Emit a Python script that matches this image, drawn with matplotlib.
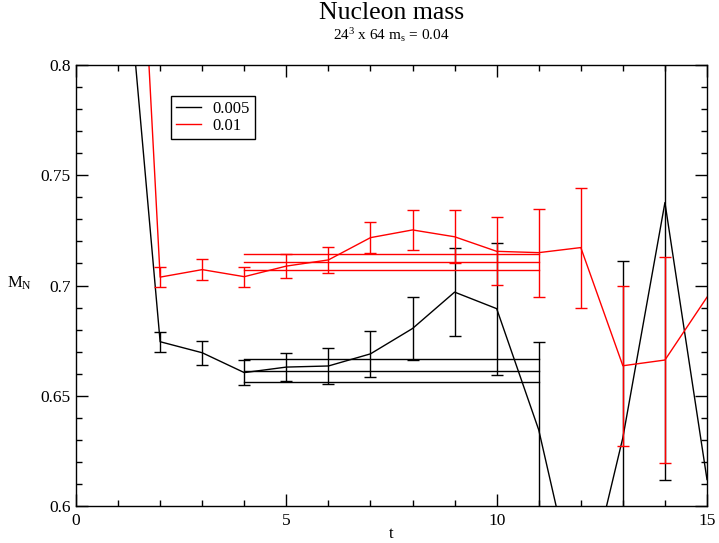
import matplotlib
matplotlib.use("Agg")
import matplotlib.pyplot as plt
from matplotlib.ticker import MultipleLocator
from matplotlib.lines import Line2D

plt.rcParams['font.family'] = ['Liberation Serif', 'DejaVu Serif']
plt.rcParams['mathtext.fontset'] = 'custom'
plt.rcParams['mathtext.rm'] = 'Liberation Serif'
plt.rcParams['mathtext.it'] = 'Liberation Serif:italic'

# Series 0.005 (black)
t_black = [1, 2, 3, 4, 5, 6, 7, 8, 9, 10, 11, 12, 13, 14, 15]
m_black = [0.890, 0.6745, 0.6695, 0.6605, 0.6630, 0.6635, 0.6690, 0.6805, 0.6970, 0.6895, 0.6345, 0.551, 0.631, 0.7376, 0.612]
e_black = [0.010, 0.0045, 0.0055, 0.0055, 0.0065, 0.0080, 0.0105, 0.0145, 0.0200, 0.0300, 0.0400, 0.030, 0.080, 0.1260]

# Series 0.01 (red)
t_red = [1, 2, 3, 4, 5, 6, 7, 8, 9, 10, 11, 12, 13, 14, 15]
m_red = [1.066, 0.7038, 0.7072, 0.7040, 0.7088, 0.7116, 0.7217, 0.7252, 0.7221, 0.7155, 0.7149, 0.7172, 0.6636, 0.6662, 0.6947]
e_red = [0.010, 0.0045, 0.0048, 0.0045, 0.0053, 0.0060, 0.0070, 0.0090, 0.0120, 0.0155, 0.0200, 0.0272, 0.0362, 0.0468]

# Fit bands (t from 4 to 11)
fit_range = [4, 11]
fit_black = [0.6665, 0.6614, 0.6561]
fit_red = [0.7143, 0.7105, 0.7069]

fig = plt.figure(figsize=(7.19, 5.43), dpi=100)
ax = fig.add_axes([76/719, 37/543, 631/719, 441/543])

cap = 4.3
for t, m, e, c in [(t_black, m_black, e_black, 'black'), (t_red, m_red, e_red, 'red')]:
    ax.plot(t, m, color=c, lw=1.0)
    n = len(e)
    ax.errorbar(t[:n], m[:n], yerr=e, fmt='none', ecolor=c,
                elinewidth=1.0, capsize=cap, capthick=1.0)

for y in fit_black:
    ax.plot(fit_range, [y, y], color='black', lw=1.0)
for y in fit_red:
    ax.plot(fit_range, [y, y], color='red', lw=1.0)

ax.set_xlim(0, 15)
ax.set_ylim(0.6, 0.8)
ax.xaxis.set_major_locator(MultipleLocator(5))
ax.xaxis.set_minor_locator(MultipleLocator(1))
ax.yaxis.set_minor_locator(MultipleLocator(0.01))
ax.set_yticks([0.6, 0.65, 0.7, 0.75, 0.8])
ax.set_yticklabels(['0.6', '0.65', '0.7', '0.75', '0.8'])
ax.tick_params(which='both', direction='in', top=True, right=True, labelsize=12.5, width=1.0)
ax.tick_params(which='major', length=8.6)
ax.tick_params(axis='x', which='major', pad=5)
ax.tick_params(axis='y', which='major', pad=4)
ax.tick_params(which='minor', length=4.3)
for s in ax.spines.values():
    s.set_linewidth(1.0)

ax.set_xlabel('t', fontsize=12, va='center')
ax.xaxis.set_label_coords(0.5, (506 - 534) / 441)
ax.set_ylabel(r'M$_{\mathrm{N}}$', fontsize=12, rotation=0, va='center', ha='center')
ax.yaxis.set_label_coords((20 - 76) / 631, (506 - 283) / 441)

lh = [Line2D([], [], color='black', lw=1.0), Line2D([], [], color='red', lw=1.0)]
leg = ax.legend(lh, ['0.005', '0.01'], loc='upper left', bbox_to_anchor=(95 / 631, (506 - 96) / 441),
                fontsize=12, frameon=True, fancybox=False, edgecolor='black', framealpha=1,
                handlelength=1.5, handletextpad=0.7, borderpad=0.3, labelspacing=0.08,
                borderaxespad=0)
leg.get_frame().set_linewidth(1.0)

fig.text(391.5/719, 1 - 19/543, 'Nucleon mass', ha='center', va='baseline', fontsize=18.5)
fig.text(391.5/719, 1 - 40/543, r'24$^{\mathrm{3}}$ x 64 m$_{\mathrm{s}}$ = 0.04', ha='center', va='baseline', fontsize=11)

fig.savefig('out.png', dpi=100)
